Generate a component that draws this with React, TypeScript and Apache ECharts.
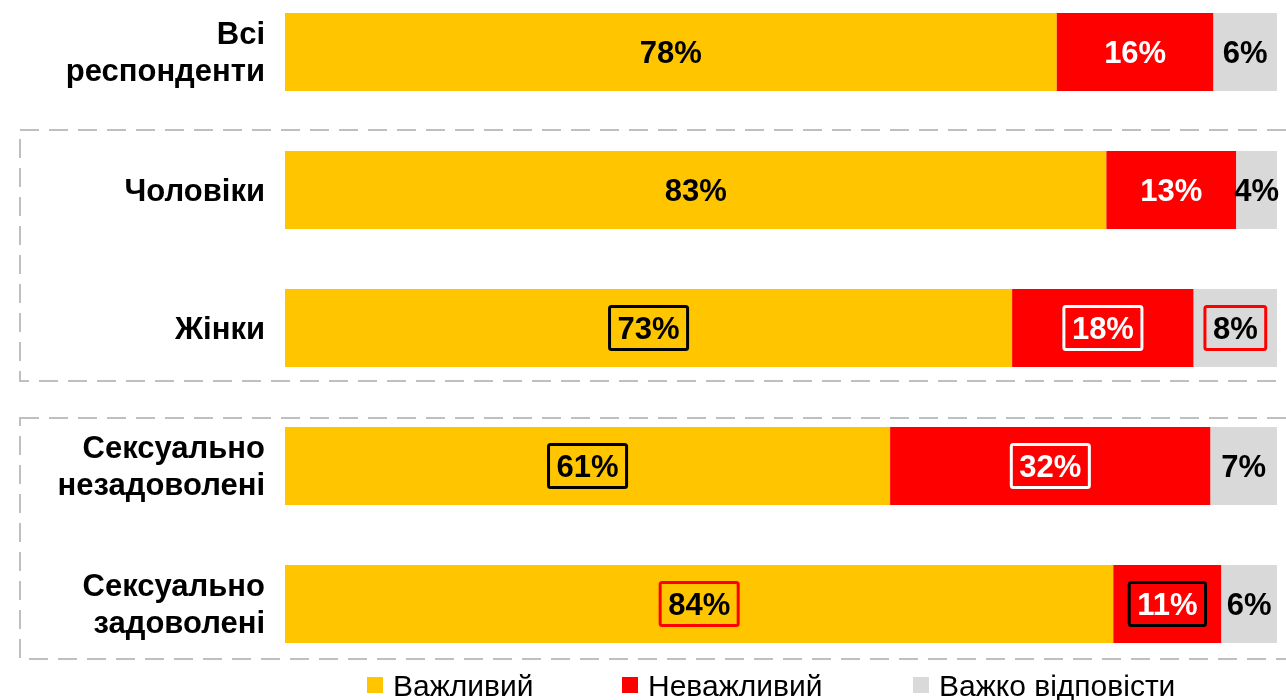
import React, { useEffect, useRef } from "react";
import * as echarts from "echarts";

const categories = [
  "Всі\nреспонденти",
  "Чоловіки",
  "Жінки",
  "Сексуально\nнезадоволені",
  "Сексуально\nзадоволені",
];
const seriesNames = ["Важливий", "Неважливий", "Важко відповісти"];
const important = [77.8, 82.8, 73.3, 61.0, 83.5];
const notImportant = [15.8, 13.1, 18.3, 32.3, 10.9];
const hardToSay = [6.4, 4.1, 8.4, 6.7, 5.6];

const colors = ["#FFC600", "#FF0000", "#D9D9D9"];
const labelColors = ["#000000", "#FFFFFF", "#000000"];
// label border colour per [series][category]; null = no box
const labelBoxes: (string | null)[][] = [
  [null, null, "#000000", "#000000", "#FF0000"],
  [null, null, "#FFFFFF", "#FFFFFF", "#000000"],
  [null, null, "#FF0000", null, null],
];
const legendLefts = [367, 622, 913];

const FONT = "Liberation Sans, Arial, sans-serif";

export default function App() {
  const ref = useRef<HTMLDivElement>(null);
  useEffect(() => {
    if (!ref.current) return;
    const chart = echarts.init(ref.current, undefined, { renderer: "svg" });
    const values = [important, notImportant, hardToSay];
    const series = values.map((vals, si) => ({
      name: seriesNames[si],
      type: "bar",
      stack: "total",
      barWidth: 78,
      itemStyle: { color: colors[si] },
      label: {
        show: true,
        position: "inside",
        color: labelColors[si],
        fontFamily: FONT,
        fontWeight: "bold",
        fontSize: 31,
        formatter: (p: any) => Math.round(p.value) + "%",
      },
      data: vals.map((v, ci) => {
        const b = labelBoxes[si][ci];
        if (!b) return v;
        return {
          value: v,
          label: {
            borderColor: b,
            borderWidth: 3,
            borderRadius: 2,
            padding: [7, 8, 5, 8],
          },
        };
      }),
    }));
    chart.setOption({
      animation: false,
      grid: {
        left: 285,
        right: 9,
        top: -17,
        height: 690,
        containLabel: false,
        outerBoundsMode: "none",
      },
      xAxis: { type: "value", min: 0, max: 100, show: false },
      yAxis: {
        type: "category",
        data: categories,
        inverse: true,
        axisLine: { show: false },
        axisTick: { show: false },
        axisLabel: {
          margin: 20,
          color: "#000",
          fontFamily: FONT,
          fontWeight: "bold",
          fontSize: 31,
          lineHeight: 37,
          align: "right",
        },
      },
      legend: seriesNames.map((name, i) => ({
        left: legendLefts[i],
        top: 670,
        padding: 0,
        icon: "rect",
        itemWidth: 16,
        itemHeight: 16,
        textStyle: {
          fontFamily: FONT,
          fontSize: 30,
          lineHeight: 30,
          color: "#000",
          padding: [0, 0, 0, 5],
        },
        data: [name],
      })),
      graphic: [
        {
          type: "rect",
          shape: { x: 20, y: 130, width: 1300, height: 251 },
          style: { fill: "none", stroke: "#BFBFBF", lineWidth: 2, lineDash: [19, 10] },
          silent: true,
        },
        {
          type: "rect",
          shape: { x: 20, y: 418, width: 1300, height: 241 },
          style: { fill: "none", stroke: "#BFBFBF", lineWidth: 2, lineDash: [19, 10] },
          silent: true,
        },
      ],
      series,
    });
    return () => chart.dispose();
  }, []);
  return (
    <div
      ref={ref}
      style={{ position: "fixed", left: 0, top: 0, width: 1286, height: 700 }}
    />
  );
}
